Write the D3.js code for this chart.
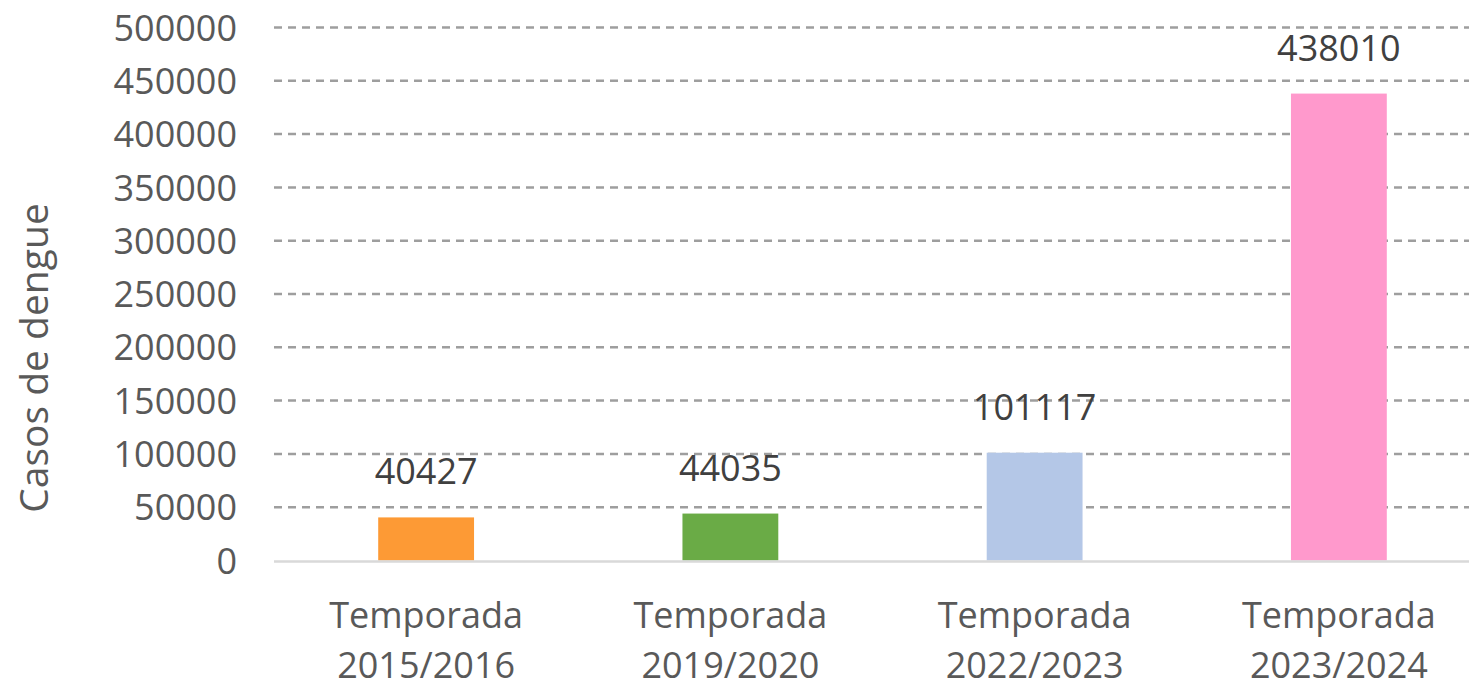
<!DOCTYPE html>
<html><head><meta charset="utf-8">
<script src="https://cdn.jsdelivr.net/npm/d3@7/dist/d3.min.js"></script>
<style>html,body{margin:0;padding:0;background:#fff;overflow:hidden}</style>
</head><body>
<svg id="c" width="1469" height="687"></svg>
<script>
const categories = ["Temporada 2015/2016","Temporada 2019/2020","Temporada 2022/2023","Temporada 2023/2024"];
const values = [40427, 44035, 101117, 438010];
const colors = ["#FD9A35","#6AAB46","#B4C7E7","#FF99CC"];
const yTicks = [0,50000,100000,150000,200000,250000,300000,350000,400000,450000,500000];
const yTitle = "Casos de dengue";

const svg = d3.select("#c");
const font = "'Open Sans', sans-serif";
const x = d3.scaleBand().domain(categories).range([274, 1491]).paddingInner(0.685).paddingOuter(0.3425);
const y = d3.scaleLinear().domain([0,500000]).range([560.5, 27.5]);

// gridlines
svg.append("g").selectAll("line").data(yTicks.filter(d=>d>0)).join("line")
  .attr("x1",274).attr("x2",1469).attr("y1",d=>y(d)).attr("y2",d=>y(d))
  .attr("stroke","#9E9E9E").attr("stroke-width",2.5).attr("stroke-dasharray","8,6");

// bars
svg.append("g").selectAll("rect").data(values).join("rect")
  .attr("x",(d,i)=>x(categories[i])).attr("width",x.bandwidth())
  .attr("y",d=>y(d)).attr("height",d=>y(0)-y(d)).attr("fill",(d,i)=>colors[i]);

// zero axis line
svg.append("line").attr("x1",274).attr("x2",1469).attr("y1",y(0)+1).attr("y2",y(0)+1)
  .attr("stroke","#D9D9D9").attr("stroke-width",2.5);

// y axis
const yAxis = d3.axisLeft(y).tickValues(yTicks).tickSize(0).tickPadding(0).tickFormat(d3.format("d"));
const ya = svg.append("g").attr("transform","translate(237,0)").call(yAxis);
ya.select(".domain").remove();
ya.selectAll("text").attr("font-family",font).attr("font-size",36).attr("fill","#595959").attr("dy","0.35em");

// x axis labels
const xa = svg.append("g").attr("transform",`translate(0,${y(0)})`).call(d3.axisBottom(x).tickSize(0).tickFormat(""));
xa.select(".domain").remove();
xa.selectAll(".tick").each(function(d){
  const parts = d.split(" ");
  const t = d3.select(this).append("text").attr("text-anchor","middle")
    .attr("font-family",font).attr("font-size",36).attr("fill","#595959");
  t.append("tspan").attr("x",0).attr("y",67).text(parts[0]);
  t.append("tspan").attr("x",0).attr("y",117).text(parts[1]);
});

// data labels
svg.append("g").selectAll("text").data(values).join("text")
  .attr("x",(d,i)=>x(categories[i])+x.bandwidth()/2).attr("y",d=>y(d)-33)
  .attr("text-anchor","middle").attr("font-family",font).attr("font-size",36).attr("fill","#404040")
  .text(d=>d);

// y title
svg.append("text").attr("transform","translate(48,358) rotate(-90)").attr("text-anchor","middle")
  .attr("font-family",font).attr("font-size",39).attr("fill","#595959").text(yTitle);
</script>
</body></html>
